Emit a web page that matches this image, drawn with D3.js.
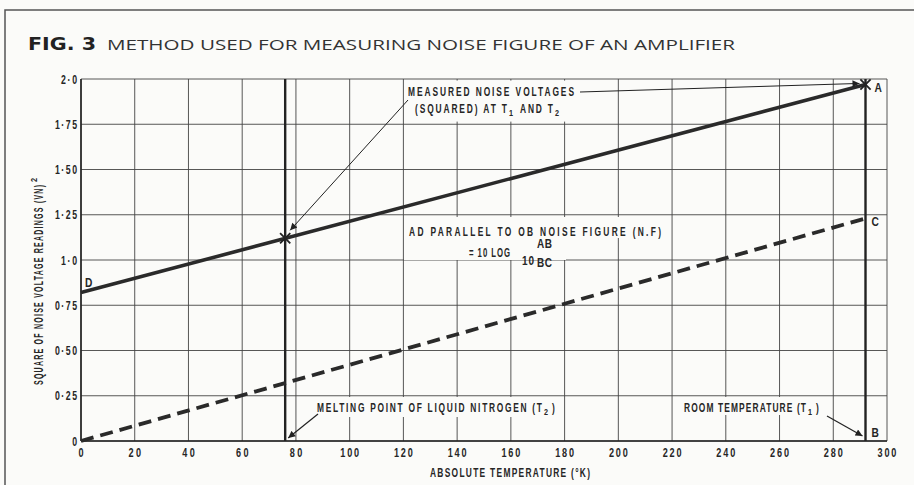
<!DOCTYPE html>
<html><head><meta charset="utf-8">
<script src="https://cdn.jsdelivr.net/npm/d3@7"></script>
<style>
html,body{margin:0;padding:0;background:#fbfbf9;}
svg{display:block;}
.cond{font-family:"Liberation Sans","Arimo",Roboto,sans-serif;font-weight:bold;fill:#262626;}
</style></head>
<body>
<svg id="chart" width="914" height="485"></svg>
<script>
// ---- data ----
const xTicks = [0,20,40,60,80,100,120,140,160,180,200,220,240,260,280,300];
const yTicks = [0,0.25,0.5,0.75,1.0,1.25,1.5,1.75,2.0];
const yTickLabels = ["0","0·25","0·50","0·75","1·0","1·25","1·50","1·75","2·0"];
const measuredTemps = [0, 292];          // D -> A
const measuredValues = [0.82, 1.97];
const originTemps = [0, 292];            // O -> C
const originValues = [0, 1.23];
const T2 = 76;    // melting point of liquid nitrogen
const T1 = 292;   // room temperature
const pointTemps = [76, 292];
const pointValues = [1.12, 1.97];

// ---- layout ----
const svg = d3.select("#chart");
const x = d3.scaleLinear().domain([0,300]).range([81,887]);
const y = d3.scaleLinear().domain([0,2]).range([441,79]);
const ink = "#222";
const bg = "#fbfbf9";

// condensed, letter-spaced text helper: narrow glyphs, spacing fills width w
function ct(g, xp, yp, str, w, fs, anchor, sx){
  sx = sx || 0.7;
  const t = g.append("text").attr("class","cond")
    .attr("transform",`translate(${xp},${yp}) scale(${sx},1)`)
    .attr("font-size",fs).attr("text-anchor",anchor||"start").text(str);
  if(str.length>1) t.attr("textLength",w/sx).attr("lengthAdjust","spacing");
  return t;
}

// outer frame
svg.append("path").attr("d","M5,485 L5,10 L914,10").attr("fill","none").attr("stroke","#555").attr("stroke-width",1.5);

// title
svg.append("text").attr("x",28).attr("y",50).attr("font-family","'DejaVu Sans',sans-serif")
  .attr("font-weight","bold").attr("font-size",18).attr("fill",ink).attr("textLength",68).attr("lengthAdjust","spacingAndGlyphs").text("FIG. 3");
svg.append("text").attr("x",107).attr("y",50).attr("font-family","'Open Sans','DejaVu Sans',sans-serif")
  .attr("font-size",14).attr("fill","#333").attr("textLength",628).attr("lengthAdjust","spacingAndGlyphs")
  .text("METHOD USED FOR MEASURING NOISE FIGURE OF AN AMPLIFIER");

// grid
const grid = svg.append("g").attr("stroke","#444").attr("stroke-width",0.9);
grid.selectAll("line.v").data(xTicks).join("line").attr("class","v")
  .attr("x1",d=>x(d)).attr("x2",d=>x(d)).attr("y1",y(0)).attr("y2",y(2));
grid.selectAll("line.h").data(yTicks).join("line").attr("class","h")
  .attr("y1",d=>y(d)).attr("y2",d=>y(d)).attr("x1",x(0)).attr("x2",x(300));
// axes frame
svg.append("line").attr("x1",x(0)).attr("x2",x(0)).attr("y1",y(0)).attr("y2",y(2)).attr("stroke",ink).attr("stroke-width",1.6);
svg.append("line").attr("x1",x(0)).attr("x2",x(300)).attr("y1",y(0)).attr("y2",y(0)).attr("stroke",ink).attr("stroke-width",1.6);

// white-out boxes behind annotation text
[[404,80.6,196,41],[404,217,262,21],[404,238,162,22],[312,397,249,20],[673,397,157,18]].forEach(b=>{
  svg.append("rect").attr("x",b[0]).attr("y",b[1]).attr("width",b[2]).attr("height",b[3]).attr("fill",bg);
});

// T1 / T2 verticals
svg.selectAll("line.t").data([T2,T1]).join("line").attr("class","t")
  .attr("x1",d=>x(d)).attr("x2",d=>x(d)).attr("y1",y(0)).attr("y2",y(2))
  .attr("stroke",ink).attr("stroke-width",2.4);

// data lines
const line = d3.line().x(d=>x(d[0])).y(d=>y(d[1]));
svg.append("path").datum(d3.zip(measuredTemps,measuredValues)).attr("d",line)
  .attr("fill","none").attr("stroke","#2a2a2a").attr("stroke-width",3.6);
svg.append("path").datum(d3.zip(originTemps,originValues)).attr("d",line)
  .attr("fill","none").attr("stroke","#2a2a2a").attr("stroke-width",3.8).attr("stroke-dasharray","13,7");

// star markers
svg.selectAll("path.pt").data(d3.zip(pointTemps,pointValues)).join("path").attr("class","pt")
  .attr("transform",d=>`translate(${x(d[0])},${y(d[1])})`)
  .attr("d",d3.symbol(d3.symbolTimes,70)).attr("fill","none").attr("stroke",ink).attr("stroke-width",1.8);

// arrow marker
const defs = svg.append("defs");
defs.append("marker").attr("id","ah").attr("viewBox","0 0 10 10").attr("refX",10).attr("refY",5)
  .attr("markerWidth",9).attr("markerHeight",7).attr("orient","auto").attr("markerUnits","userSpaceOnUse")
  .append("path").attr("d","M0,0 L10,5 L0,10 Z").attr("fill",ink);
function arrow(x1,y1,x2,y2,w){
  svg.append("line").attr("x1",x1).attr("y1",y1).attr("x2",x2).attr("y2",y2)
    .attr("stroke",ink).attr("stroke-width",w||1).attr("marker-end","url(#ah)");
}
arrow(580,92,x(T1)-6,y(1.97)-1,1);
arrow(408,100,x(T2)+5,y(1.12)-8,1);
arrow(318,414,x(T2)+3,y(0)-3,1.2);
arrow(827,416,x(T1)-3,y(0)-5,1.2);

// tick labels
yTicks.forEach((d,i)=>{
  const s = yTickLabels[i];
  const w = s.length===1 ? 6 : (s.length===3 ? 16 : 22);
  ct(svg, 77, y(d)+4.5, s, w, 12.5, "end");
});
xTicks.forEach(d=>{
  const s = String(d);
  ct(svg, x(d), 457, s, s.length*6.3, 13, "middle");
});

// axis titles
const ytg = svg.append("g").attr("transform","translate(43,385) rotate(-90)");
ct(ytg, 0, 0, "SQUARE OF NOISE VOLTAGE READINGS (VN)", 200, 12.5, "start", 0.56);
ct(ytg, 203, -6, "2", 5, 9, "start", 0.8);
ct(svg, 510, 477, "ABSOLUTE TEMPERATURE (°K)", 160, 12, "middle");

// annotations
ct(svg, 408, 96, "MEASURED NOISE VOLTAGES", 166, 12);
ct(svg, 415, 113, "(SQUARED) AT T", 92, 12);
ct(svg, 509, 116, "1", 4, 9, "start", 0.8);
ct(svg, 520, 113, "AND T", 33, 12);
ct(svg, 555, 116, "2", 5, 9, "start", 0.8);

ct(svg, 409, 236, "AD PARALLEL TO OB NOISE FIGURE (N.F)", 252, 12);
ct(svg, 469, 257, "= 10 LOG", 41, 12.5, "start", 0.62);
ct(svg, 522, 265, "10", 12, 12.5, "start", 0.8);
ct(svg, 537, 248, "AB", 15, 12.5, "start", 0.8);
ct(svg, 537, 267, "BC", 15, 12.5, "start", 0.8);

ct(svg, 317, 412, "MELTING POINT OF LIQUID NITROGEN (T", 225, 12);
ct(svg, 544, 415, "2", 5, 9, "start", 0.8);
ct(svg, 552, 412, ")", 4, 12);

ct(svg, 684, 412, "ROOM TEMPERATURE (T", 122, 12);
ct(svg, 808, 415, "1", 4, 9, "start", 0.8);
ct(svg, 816, 412, ")", 4, 12);

// point labels
ct(svg, x(T1)+9, y(1.97)+8, "A", 8, 12, "start", 0.85);
ct(svg, x(T1)+6, y(1.23)+8, "C", 8, 12, "start", 0.85);
ct(svg, x(T1)+6, y(0)-4, "B", 8, 12, "start", 0.85);
ct(svg, x(0)+4, y(0.82)-6, "D", 8, 12, "start", 0.85);
</script>
</body></html>
